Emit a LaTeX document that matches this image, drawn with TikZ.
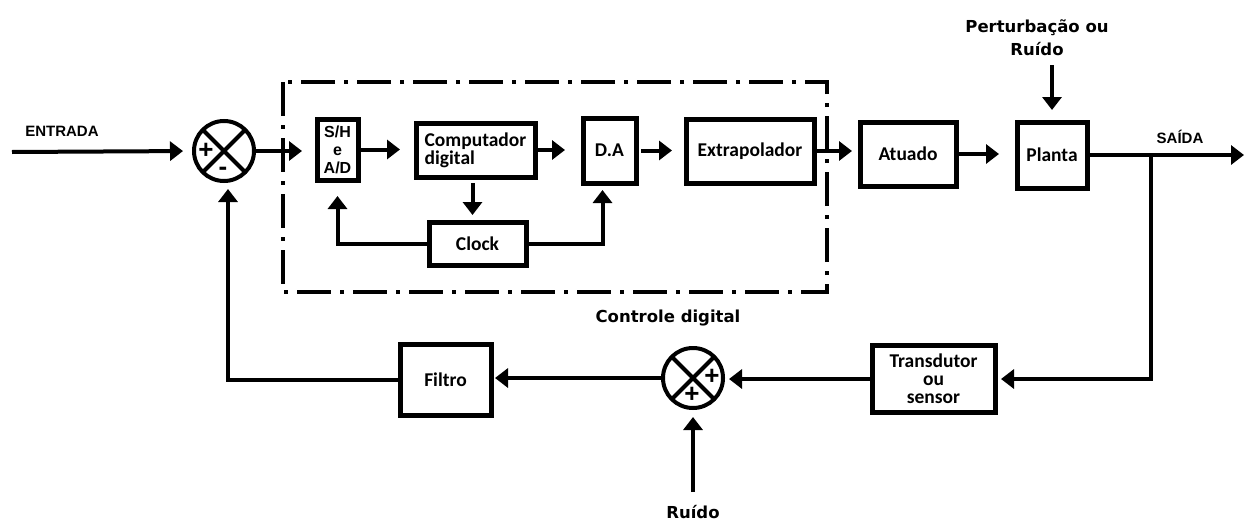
\documentclass[tikz,border=0pt]{standalone}
\usepackage{fontspec}
\setmainfont{Liberation Sans}
\newfontfamily\blockfont{Carlito}
\newfontfamily\tagfont{DejaVu Sans}
\usetikzlibrary{arrows.meta}
\tikzset{
  block/.style={draw, line width=5pt, inner sep=0pt, outer sep=0pt, align=center,
    font=\blockfont\bfseries\fontsize{19.5}{18}\selectfont},
  junction/.style={draw, circle, line width=4pt, minimum size=60pt, inner sep=0pt, outer sep=0pt},
  sig/.style={line width=4pt, -{Triangle[length=13pt,width=19pt]}},
  tag/.style={font=\tagfont\bfseries\fontsize{16.5}{23}\selectfont, align=center},
  io/.style={font=\bfseries\fontsize{15}{18}\selectfont},
  sign/.style={font=\bfseries\fontsize{26}{26}\selectfont, inner sep=0pt},
}
\begin{document}
\begin{tikzpicture}[x=1pt,y=-1pt]
\useasboundingbox (0,0) rectangle (1244,522);
% bloco do controle digital
\draw[line width=4pt, dash pattern=on 34pt off 9pt on 4pt off 9pt] (283,82) rectangle (827,292);
\node[tag] (ctrl) at (668,318) {Controle digital};

% blocos
\node[block, font=\bfseries\fontsize{16}{18}\selectfont, minimum width=41pt, minimum height=61pt] (sh) at (337.5,149.5) {S/H\\e\\A/D};
\node[block, align=left, minimum width=119pt, minimum height=54pt] (comp) at (475.5,150) {Computador\\digital};
\node[block, minimum width=97pt, minimum height=43pt] (clock) at (477.5,243.5) {Clock};
\node[block, minimum width=53pt, minimum height=65pt] (da) at (609.5,150.5) {D.A};
\node[block, minimum width=128pt, minimum height=64pt] (extrap) at (750,151) {Extrapolador};
\node[block, minimum width=96pt, minimum height=64pt] (atuado) at (908,154) {Atuado};
\node[block, minimum width=70pt, minimum height=66pt] (planta) at (1052,155) {Planta};
\node[block, minimum width=123pt, minimum height=67pt] (transd) at (933.5,379) {Transdutor\\ou\\sensor};
\node[block, minimum width=91pt, minimum height=71pt] (filtro) at (445.5,379.5) {Filtro};

% somadores
\node[junction] (sum1) at (224,151) {};
\draw[line width=4pt] (sum1.north west) -- (sum1.south east) (sum1.north east) -- (sum1.south west);
\node[sign] (p1) at (206,151) {+};
\node[sign] (m1) at (223,171) {-};
\node[junction] (sum2) at (693,378) {};
\draw[line width=4pt] (sum2.north west) -- (sum2.south east) (sum2.north east) -- (sum2.south west);
\node[sign] (p2) at (712,377) {+};
\node[sign] (p3) at (692,395) {+};

% rotulos
\node[io] (entrada) at (62,131) {ENTRADA};
\node[io] (saida) at (1180,137) {SAÍDA};
\node[tag] (pert) at (1037,38) {Perturbação ou\\Ruído};
\node[tag] (ruido) at (693,512) {Ruído};

\coordinate (in) at (12,152);
\coordinate (out) at (1244,155);
\coordinate (br) at (1151,155);
\coordinate (pin) at (1052,65);
\coordinate (rin) at (693,492);

% caminho direto
\draw[sig, shorten >=11pt] (in) -- (sum1.west);
\draw[sig, shorten >=15pt] (sum1.east) -- (sum1.east -| sh.west);
\draw[sig, shorten >=16pt] (sh.east) -- (sh.east -| comp.west);
\draw[sig, shorten >=18pt] (comp.east) -- (comp.east -| da.west);
\draw[sig, shorten <=5pt, shorten >=14pt] (da.east) -- (da.east -| extrap.west);
\draw[sig, shorten >=8pt] (extrap.east) -- (extrap.east -| atuado.west);
\draw[sig, shorten >=18pt] (atuado.east) -- (atuado.east -| planta.west);
\draw[sig] (planta.east) -- (out);
\draw[sig, shorten >=12pt] (pin) -- (planta.north);

% clock
\draw[sig, shorten <=6pt, shorten >=7pt] ([xshift=-3pt]comp.south) -- ([xshift=-3pt]comp.south |- clock.north);
\draw[sig, shorten >=16pt] (clock.west) -| (sh.south);
\draw[sig, shorten >=7pt] (clock.east) -| ([xshift=-7pt]da.south);

% realimentacao
\draw[sig, shorten >=6pt] (br) |- (transd.east);
\draw[sig, shorten >=6pt] (transd.west) -- (transd.west -| sum2.east);
\draw[sig, shorten >=4pt] (sum2.west) -- (sum2.west -| filtro.east);
\draw[sig, shorten >=8pt] (filtro.west) -| ([xshift=4pt]sum1.south);
\draw[sig, shorten >=9pt] (rin) -- (sum2.south);
\end{tikzpicture}
\end{document}
